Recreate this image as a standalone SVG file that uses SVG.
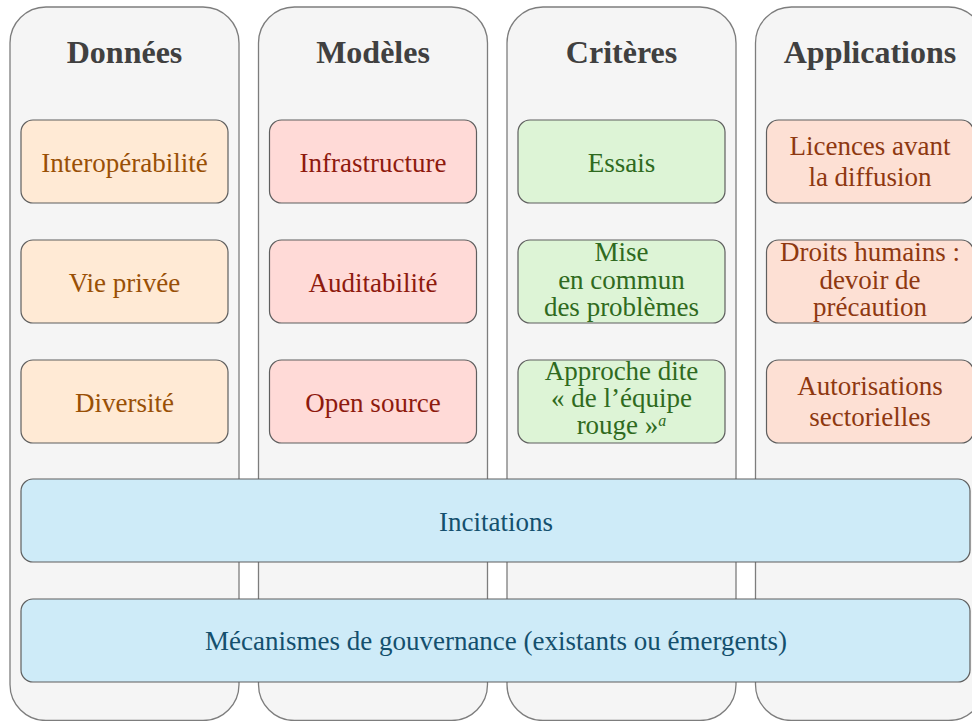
<svg xmlns="http://www.w3.org/2000/svg" width="972" height="721" viewBox="0 0 972 721">
  <style>
    text { font-family: 'Liberation Serif', 'Times New Roman', serif; }
    .col { fill: #f5f5f5; stroke: #7d7d7d; stroke-width: 1.3; }
    .box { stroke: #5f5f5f; stroke-width: 1.2; }
    .title { font-size: 32px; font-weight: bold; fill: #404040; text-anchor: middle; }
    .lbl { font-size: 27px; text-anchor: middle; }
    .orange rect { fill: #ffead5; }
    .orange text { fill: #995006; }
    .red rect { fill: #ffdad7; }
    .red text { fill: #8e1a0e; }
    .green rect { fill: #ddf4d6; }
    .green text { fill: #2f6a20; }
    .salmon rect { fill: #fde0d4; }
    .salmon text { fill: #8e3810; }
    .blue rect { fill: #ceebf8; }
    .blue text { fill: #14506e; }
  </style>

  <!-- columns -->
  <g id="col-donnees">
    <rect class="col" x="10" y="7" width="229" height="713.5" rx="36"/>
    <text class="title" x="124.5" y="63">Données</text>
  </g>
  <g id="col-modeles">
    <rect class="col" x="258.5" y="7" width="229" height="713.5" rx="36"/>
    <text class="title" x="373" y="63">Modèles</text>
  </g>
  <g id="col-criteres">
    <rect class="col" x="507" y="7" width="229" height="713.5" rx="36"/>
    <text class="title" x="621.5" y="63">Critères</text>
  </g>
  <g id="col-applications">
    <rect class="col" x="755.5" y="7" width="229" height="713.5" rx="36"/>
    <text class="title" x="870" y="63">Applications</text>
  </g>

  <!-- Données -->
  <g id="interoperabilite" class="orange">
    <rect class="box" x="21" y="120" width="207" height="83" rx="12"/>
    <text class="lbl" x="124.5" y="171.5">Interopérabilité</text>
  </g>
  <g id="vie-privee" class="orange">
    <rect class="box" x="21" y="240" width="207" height="83" rx="12"/>
    <text class="lbl" x="124.5" y="291.5">Vie privée</text>
  </g>
  <g id="diversite" class="orange">
    <rect class="box" x="21" y="360" width="207" height="83" rx="12"/>
    <text class="lbl" x="124.5" y="411.5">Diversité</text>
  </g>

  <!-- Modèles -->
  <g id="infrastructure" class="red">
    <rect class="box" x="269.5" y="120" width="207" height="83" rx="12"/>
    <text class="lbl" x="373" y="171.5">Infrastructure</text>
  </g>
  <g id="auditabilite" class="red">
    <rect class="box" x="269.5" y="240" width="207" height="83" rx="12"/>
    <text class="lbl" x="373" y="291.5">Auditabilité</text>
  </g>
  <g id="open-source" class="red">
    <rect class="box" x="269.5" y="360" width="207" height="83" rx="12"/>
    <text class="lbl" x="373" y="411.5">Open source</text>
  </g>

  <!-- Critères -->
  <g id="essais" class="green">
    <rect class="box" x="518" y="120" width="207" height="83" rx="12"/>
    <text class="lbl" x="621.5" y="171.5">Essais</text>
  </g>
  <g id="mise-en-commun" class="green">
    <rect class="box" x="518" y="240" width="207" height="83" rx="12"/>
    <text class="lbl" x="621.5" y="261">Mise</text>
    <text class="lbl" x="621.5" y="288.5">en commun</text>
    <text class="lbl" x="621.5" y="316">des problèmes</text>
  </g>
  <g id="equipe-rouge" class="green">
    <rect class="box" x="518" y="360" width="207" height="83" rx="12"/>
    <text class="lbl" x="621.5" y="380">Approche dite</text>
    <text class="lbl" x="621.5" y="407">« de l’équipe</text>
    <text class="lbl" x="621.5" y="434">rouge »<tspan font-size="16" font-style="italic" dy="-8">a</tspan></text>
  </g>

  <!-- Applications -->
  <g id="licences" class="salmon">
    <rect class="box" x="766.5" y="120" width="207" height="83" rx="12"/>
    <text class="lbl" x="870" y="155">Licences avant</text>
    <text class="lbl" x="870" y="185.5">la diffusion</text>
  </g>
  <g id="droits-humains" class="salmon">
    <rect class="box" x="766.5" y="240" width="207" height="83" rx="12"/>
    <text class="lbl" x="870" y="261">Droits humains :</text>
    <text class="lbl" x="870" y="288.5">devoir de</text>
    <text class="lbl" x="870" y="316">précaution</text>
  </g>
  <g id="autorisations" class="salmon">
    <rect class="box" x="766.5" y="360" width="207" height="83" rx="12"/>
    <text class="lbl" x="870" y="395">Autorisations</text>
    <text class="lbl" x="870" y="425.5">sectorielles</text>
  </g>

  <!-- transversal bands -->
  <g id="incitations" class="blue">
    <rect class="box" x="21" y="479" width="949" height="83" rx="12"/>
    <text class="lbl" x="496" y="530.5">Incitations</text>
  </g>
  <g id="gouvernance" class="blue">
    <rect class="box" x="21" y="599" width="949" height="83" rx="12"/>
    <text class="lbl" x="496" y="649.5">Mécanismes de gouvernance (existants ou émergents)</text>
  </g>

  <!-- no connectors in this diagram -->
  <g id="connectors"/>
</svg>
